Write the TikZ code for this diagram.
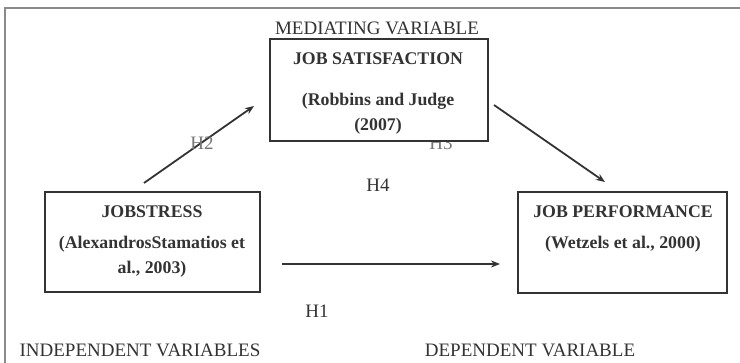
\documentclass[tikz,border=0pt]{standalone}
\usepackage{fontspec}
\setmainfont{Liberation Serif}
\usetikzlibrary{arrows.meta}
\definecolor{ink}{HTML}{333333}
\definecolor{lgrey}{HTML}{777777}
\definecolor{fgrey}{HTML}{8A8A8A}
\tikzset{
  varbox/.style={draw=ink, line width=1.7pt, fill=white, inner sep=0pt},
  boxtxt/.style={anchor=base, inner sep=0pt, text=ink, font=\fontsize{17.8}{20}\selectfont\bfseries},
  lbl/.style={anchor=base, inner sep=0pt, text=ink, font=\fontsize{19}{22}\selectfont},
  hlbl/.style={anchor=base, inner sep=0pt, text=lgrey, font=\fontsize{19}{22}\selectfont},
  conn/.style={draw=ink, line width=1.8pt, -{Stealth[length=9pt,width=7pt]}},
  frame/.style={draw=fgrey, line width=1.7pt}
}
\begin{document}
\begin{tikzpicture}[x=1pt,y=-1pt]
\useasboundingbox (0,0) rectangle (740,363);
\fill[white] (0,0) rectangle (740,363);
% outer frame
\coordinate (ftr) at (740,8);
\coordinate (ftl) at (5,8);
\coordinate (fbl) at (5,363);
\draw[frame] (ftr) -- (ftl) -- (fbl);
% hidden-under-box label
\node[hlbl] (h3) at (441,150) {H3};
% boxes
\node[varbox, minimum width=218pt, minimum height=102pt] (sat) at (379,90) {};
\node[varbox, minimum width=215pt, minimum height=100pt] (stress) at (152.5,242) {};
\node[varbox, minimum width=209pt, minimum height=101pt] (perf) at (622.5,242.5) {};
% box texts
\node[boxtxt] (t1) at (378,65) {JOB SATISFACTION};
\node[boxtxt] (t2) at (378,106) {(Robbins and Judge};
\node[boxtxt] (t3) at (378,131) {(2007)};
\node[boxtxt] (t4) at (152,218) {JOBSTRESS};
\node[boxtxt] (t5) at (152,249) {(AlexandrosStamatios et};
\node[boxtxt] (t6) at (152,274) {al., 2003)};
\node[boxtxt] (t7) at (623,218) {JOB PERFORMANCE};
\node[boxtxt] (t8) at (623,249) {(Wetzels et al., 2000)};
% labels
\node[lbl] (med) at (377,35) {MEDIATING VARIABLE};
\node[lbl] (ind) at (140,357) {INDEPENDENT VARIABLES};
\node[lbl] (dep) at (530,357) {DEPENDENT VARIABLE};
\node[lbl] (h4) at (378,192) {H4};
\node[lbl] (h1) at (317,318) {H1};
% connectors
\coordinate (a2s) at (144,183);
\coordinate (a2e) at (254,106);
\coordinate (a3s) at (494,105);
\coordinate (a3e) at (605,182);
\coordinate (a1s) at (282,264);
\coordinate (a1e) at (500,264);
\draw[conn] (a2s) -- (a2e);
\draw[conn] (a3s) -- (a3e);
\draw[conn] (a1s) -- (a1e);
\node[hlbl] (h2) at (202,150) {H2};
\end{tikzpicture}
\end{document}
